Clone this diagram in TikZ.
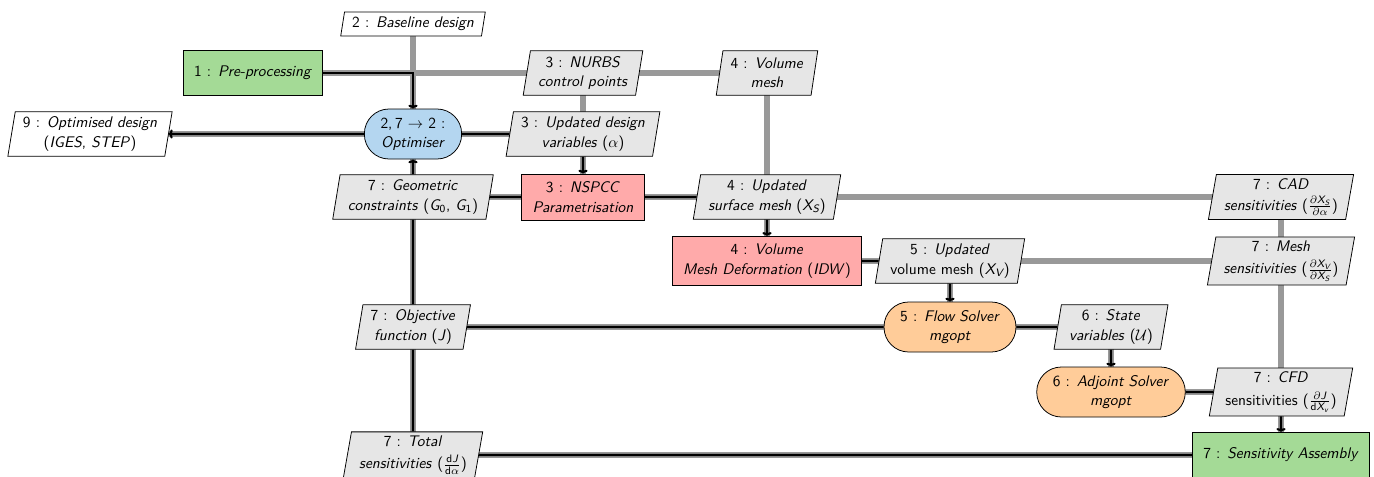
\documentclass[tikz,border=0pt]{standalone}
\usepackage{amsmath}
\usetikzlibrary{shapes.geometric,arrows.meta}
\definecolor{datafill}{HTML}{E6E6E6}
\definecolor{lineg}{HTML}{999999}
\definecolor{compgreen}{HTML}{A4DA96}
\definecolor{compred}{HTML}{FFAAAA}
\definecolor{comporange}{HTML}{FFCC99}
\definecolor{compblue}{HTML}{B4D6F0}
\pgfdeclarelayer{bg}
\pgfsetlayers{bg,main}
\newcommand{\ti}[1]{\textit{#1}}
\tikzset{
  every node/.style={font=\sffamily\fontsize{10}{12.6}\selectfont, align=center},
  datab/.style={trapezium, trapezium left angle=80, trapezium right angle=100,
    trapezium stretches body, draw=black, line width=0.5pt, fill=datafill,
    inner xsep=5pt, inner ysep=2.5pt, minimum height=29pt},
  inoutb/.style={datab, fill=white},
  comp/.style={rectangle, draw=black, line width=0.5pt, inner xsep=7pt,
    inner ysep=5pt, minimum height=29.5pt},
  rcomp/.style={rectangle, rounded corners=16pt, draw=black, line width=0.5pt,
    inner xsep=10.5pt, inner ysep=5pt, minimum height=32.5pt},
  dline/.style={draw=lineg, line width=4.5pt},
  pline/.style={draw=black, line width=1.4pt},
  parr/.style={pline, -{To[length=2.5pt,width=6pt]}}
}
\begin{document}
\begin{tikzpicture}[x=0.65pt,y=-0.65pt]
\useasboundingbox (0,0) rectangle (1374,477);
\clip (0,0) rectangle (1374,477);
% nodes
\node[inoutb, minimum height=15.6pt] (base) at (413,24) {2 : \ti{Baseline design}};
\node[comp, fill=compgreen] (pre) at (253,73) {1 : \ti{Pre-processing}};
\node[datab] (nurbs) at (583,73) {3 : \ti{NURBS}\\ \ti{control points}};
\node[datab] (vm) at (767,73) {4 : \ti{Volume}\\ \ti{mesh}};
\node[inoutb] (od) at (90,134) {9 : \ti{Optimised design}\\ (\ti{IGES}, \ti{STEP})};
\node[rcomp, fill=compblue] (opt) at (413,134) {2,\,7 $\rightarrow$ 2 :\\ \ti{Optimiser}};
\node[datab] (udv) at (583,134) {3 : \ti{Updated design}\\ \ti{variables} ($\alpha$)};
\node[datab] (geo) at (413,197) {7 : \ti{Geometric}\\ \ti{constraints} ($\textit{G}_{\textup{0}}$, $\textit{G}_{\textup{1}}$)};
\node[comp, fill=compred] (nspcc) at (583,197) {3 : \ti{NSPCC}\\ \ti{Parametrisation}};
\node[datab] (usm) at (767,197) {4 : \ti{Updated}\\ \ti{surface mesh} ($\textit{X}_{\textit{S}}$)};
\node[datab] (cad) at (1281,197) {7 : \ti{CAD}\\[1pt] \ti{sensitivities} ($\frac{\partial\textit{X}_{\textit{S}}}{\partial\alpha}$)};
\node[comp, fill=compred] (vmd) at (767,261) {4 : \ti{Volume}\\ \ti{Mesh Deformation} (\ti{IDW})};
\node[datab] (uvm) at (950,261) {5 : \ti{Updated}\\ volume mesh ($\textit{X}_{\textit{V}}$)};
\node[datab] (ms) at (1281,261) {7 : \ti{Mesh}\\[2pt] \ti{sensitivities} ($\frac{\partial\textit{X}_{\textit{V}}}{\partial\textit{X}_{\textit{S}}}$)};
\node[datab] (obj) at (413,327) {7 : \ti{Objective}\\ \ti{function} (\ti{J})};
\node[rcomp, fill=comporange] (flow) at (950,327) {5 : \ti{Flow Solver}\\ \ti{mgopt}};
\node[datab] (sv) at (1111,327) {6 : \ti{State}\\ \ti{variables} ($\mathcal{U}$)};
\node[rcomp, fill=comporange] (adj) at (1111,392) {6 : \ti{Adjoint Solver}\\ \ti{mgopt}};
\node[datab] (cfd) at (1281,392) {7 : \ti{CFD}\\[2pt] sensitivities ($\frac{\partial\textit{J}}{\textup{d}\textit{X}_{\textit{v}}}$)};
\node[datab] (ts) at (413,455) {7 : \ti{Total}\\[2pt] \ti{sensitivities} ($\frac{\textup{d}\textit{J}}{\textup{d}\alpha}$)};
\node[comp, fill=compgreen] (sa) at (1281,455) {7 : \ti{Sensitivity Assembly}};
% connectors
\begin{pgfonlayer}{bg}
\draw[dline] (base.center) -- (opt.center);
\draw[dline] (pre.center) -- (vm.center);
\draw[dline] (nurbs.center) -- (nspcc.center);
\draw[dline] (vm.center) -- (vmd.center);
\draw[dline] (od.center) -- (udv.center);
\draw[dline] (geo.center) -- (cad.center);
\draw[dline] (vmd.center) -- (ms.center);
\draw[dline] (uvm.center) -- (flow.center);
\draw[dline] (obj.center) -- (sv.center);
\draw[dline] (sv.center) -- (adj.center);
\draw[dline] (adj.center) -- (cfd.center);
\draw[dline] (cad.center) -- (sa.center);
\draw[dline] (ts.center) -- (sa.center);
\draw[dline] (opt.center) -- (ts.center);
\draw[parr] (pre) -| (opt);
\draw[parr] (opt) -- (od);
\draw[pline] (opt) -- (udv);
\draw[parr] (udv) -- (nspcc);
\draw[pline] (nspcc) -- (geo);
\draw[pline] (nspcc) -- (usm);
\draw[parr] (usm) -- (vmd);
\draw[pline] (vmd) -- (uvm);
\draw[parr] (uvm) -- (flow);
\draw[pline] (flow) -- (obj);
\draw[pline] (flow) -- (sv);
\draw[parr] (sv) -- (adj);
\draw[pline] (adj) -- (cfd);
\draw[parr] (cfd) -- (sa);
\draw[pline] (sa) -- (ts);
\draw[pline] (ts) -- (obj);
\draw[pline] (obj) -- (geo);
\draw[parr] (geo) -- (opt);
\end{pgfonlayer}
\end{tikzpicture}
\end{document}
